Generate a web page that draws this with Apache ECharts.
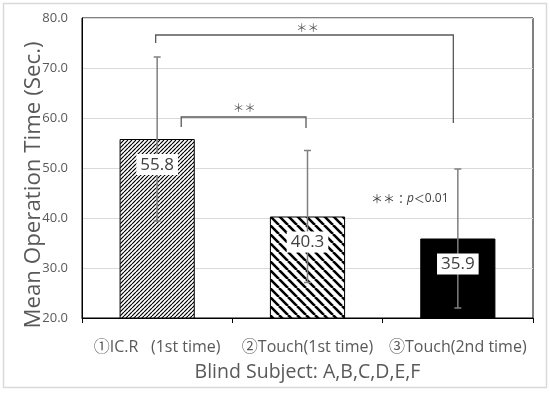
<!DOCTYPE html>
<html>
<head>
<meta charset="utf-8">
<script src="https://cdn.jsdelivr.net/npm/echarts@6/dist/echarts.min.js"></script>
<style>html,body{margin:0;padding:0;background:#fff}#c{width:550px;height:395px}</style>
</head>
<body>
<div id="c"></div>
<script>
const categories = ['①IC.R   (1st time)', '②Touch(1st time)', '③Touch(2nd time)'];
const means = [55.8, 40.3, 35.9];
const sds = [16.4, 13.2, 13.9];
const yMin = 20, yMax = 80, yStep = 10;
// brackets: [xLeft, xRight, yTop, yLeftEnd, yRightEnd] in data units (x: 0..3 across categories)
const brackets = [[0.49, 2.47, 76.6, 75.0, 59.0], [0.66, 1.49, 60.2, 58.2, 58.0]];
const sigMarks = [[1.50, 78.0, '＊＊'], [1.08, 62.0, '＊＊']];
const noteAt = [2.18, 43.8];

function hatch(P, lw, dir) {
  const c = document.createElement('canvas');
  c.width = P; c.height = P;
  const g = c.getContext('2d');
  g.fillStyle = '#fff'; g.fillRect(0, 0, P, P);
  g.strokeStyle = '#000'; g.lineWidth = lw;
  g.beginPath();
  [-P, 0, P].forEach(k => {
    if (dir === '/') { g.moveTo(k, P); g.lineTo(k + P, 0); }
    else { g.moveTo(k, 0); g.lineTo(k + P, P); }
  });
  g.stroke();
  return c;
}
const fills = [
  { image: hatch(4, 1.2, '/'), repeat: 'repeat' },
  { image: hatch(9, 2.6, '\\'), repeat: 'repeat' },
  '#000'
];

const chart = echarts.init(document.getElementById('c'), null, { renderer: 'canvas' });
const font = '"Open Sans", "Noto Sans", "Noto Sans CJK JP", sans-serif';

chart.setOption({
  backgroundColor: '#fff',
  animation: false,
  textStyle: { fontFamily: font },
  graphic: [{
    type: 'rect', shape: { x: 3.5, y: 3.5, width: 543, height: 384 },
    style: { fill: 'none', stroke: '#d9d9d9', lineWidth: 1.5 }, z: -10
  }],
  grid: { left: 82, right: 17, top: 18, bottom: 77, show: true, borderColor: '#000', borderWidth: 1, containLabel: false },
  xAxis: [{
    type: 'category', data: categories,
    axisLine: { lineStyle: { color: '#000', width: 1 } },
    axisTick: { show: true, length: 5, lineStyle: { color: '#000' }, alignWithLabel: false },
    axisLabel: { color: '#595959', fontSize: 16, margin: 21, fontFamily: font, interval: 0 },
    name: 'Blind Subject: A,B,C,D,E,F', nameLocation: 'middle', nameGap: 45, nameMoveOverlap: false,
    nameTextStyle: { color: '#595959', fontSize: 19.5, fontFamily: font }
  }, {
    type: 'value', min: 0, max: 3, show: false
  }],
  yAxis: {
    type: 'value', min: yMin, max: yMax, interval: yStep,
    axisLine: { show: true, lineStyle: { color: '#000' } },
    axisTick: { show: false },
    splitLine: { lineStyle: { color: '#d9d9d9', width: 1 } },
    axisLabel: { color: '#595959', fontSize: 13, margin: 14, formatter: v => v.toFixed(1), fontFamily: font },
    name: 'Mean Operation Time (Sec.)', nameLocation: 'middle', nameGap: 37, nameMoveOverlap: false,
    nameTextStyle: { color: '#595959', fontSize: 22.3, fontFamily: font, padding: [0, 34, 0, 0] }
  },
  series: [
    {
      type: 'bar', barWidth: '50%', z: 2,
      data: means.map((v, i) => ({ value: v, itemStyle: { color: fills[i] } })),
      itemStyle: { borderColor: '#000', borderWidth: 1 }
    },
    {
      type: 'custom', z: 3, xAxisIndex: 0,
      data: means.map((m, i) => [i, m - sds[i], m + sds[i]]),
      encode: { x: 0, y: [1, 2] },
      renderItem: (params, api) => {
        const lo = api.coord([api.value(0), api.value(1)]);
        const hi = api.coord([api.value(0), api.value(2)]);
        const w = 3.5;
        const st = { stroke: '#7f7f7f', lineWidth: 1.5 };
        return { type: 'group', children: [
          { type: 'line', shape: { x1: hi[0], y1: hi[1], x2: lo[0], y2: lo[1] }, style: st },
          { type: 'line', shape: { x1: hi[0] - w, y1: hi[1], x2: hi[0] + w, y2: hi[1] }, style: st },
          { type: 'line', shape: { x1: lo[0] - w, y1: lo[1], x2: lo[0] + w, y2: lo[1] }, style: st }
        ]};
      }
    },
    {
      type: 'bar', barWidth: '50%', barGap: '-100%', z: 4,
      data: means,
      itemStyle: { color: 'rgba(0,0,0,0)' },
      label: {
        show: true, position: 'insideTop', distance: 15,
        backgroundColor: '#fff', padding: [2, 4, 1, 4], lineHeight: 18,
        color: '#404040', fontSize: 17, fontFamily: font,
        formatter: p => p.value.toFixed(1)
      }
    },
    {
      type: 'custom', z: 5, xAxisIndex: 1,
      data: brackets,
      encode: { x: [0, 1], y: [2, 3, 4] },
      renderItem: (params, api) => {
        const a = api.coord([api.value(0), api.value(3)]);
        const b = api.coord([api.value(0), api.value(2)]);
        const c = api.coord([api.value(1), api.value(2)]);
        const d = api.coord([api.value(1), api.value(4)]);
        return { type: 'polyline', shape: { points: [a, b, c, d] },
          style: { stroke: '#595959', lineWidth: 1.3, fill: 'none' } };
      }
    },
    {
      type: 'custom', z: 5, xAxisIndex: 1,
      data: sigMarks,
      encode: { x: 0, y: 1 },
      renderItem: (params, api) => {
        const p = api.coord([api.value(0), api.value(1)]);
        return { type: 'text', x: p[0], y: p[1],
          style: { text: sigMarks[params.dataIndex][2], fill: '#595959', fontSize: 11.5,
            fontFamily: '"Noto Sans CJK JP", sans-serif', align: 'center', verticalAlign: 'middle' } };
      }
    },
    {
      type: 'custom', z: 5, xAxisIndex: 1,
      data: [noteAt],
      encode: { x: 0, y: 1 },
      renderItem: (params, api) => {
        const p = api.coord([api.value(0), api.value(1)]);
        return { type: 'text', x: p[0], y: p[1],
          style: {
            text: '{a|＊＊：}{p|p}{b|＜}{c|0.01}',
            align: 'center', verticalAlign: 'middle',
            rich: {
              a: { fontSize: 12, fill: '#404040', fontFamily: '"Noto Sans CJK JP", sans-serif' },
              p: { fontSize: 12, fill: '#404040', fontStyle: 'italic', fontFamily: font },
              b: { fontSize: 11, fill: '#404040', fontFamily: '"Noto Sans CJK JP", sans-serif' },
              c: { fontSize: 12, fill: '#404040', fontFamily: font }
            }
          } };
      }
    }
  ]
});
</script>
</body>
</html>
